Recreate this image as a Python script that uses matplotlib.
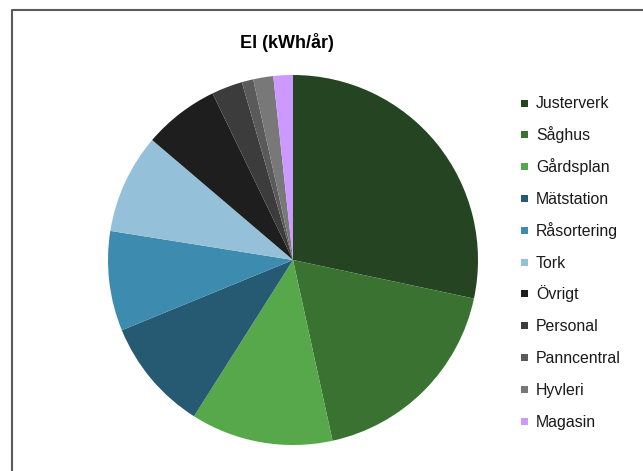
import matplotlib.pyplot as plt
from matplotlib.patches import Rectangle
from matplotlib.lines import Line2D

plt.rcParams['font.family'] = ['Liberation Sans', 'DejaVu Sans']

# andelar av elförbrukningen (%)
kategorier = ['Justerverk', 'Såghus', 'Gårdsplan', 'Mätstation', 'Råsortering',
              'Tork', 'Övrigt', 'Personal', 'Panncentral', 'Hyvleri', 'Magasin']
andelar = [28.3, 18.2, 12.4, 9.8, 8.7, 8.7, 6.6, 2.7, 1.0, 1.75, 1.7]
farger = ['#254421', '#3a7232', '#56a84a', '#265a73', '#3e8bb0', '#94c1d9',
          '#1e1e1e', '#3c3c3c', '#5a5a5a', '#787878', '#cc99ff']

W, H = 643, 471
fig = plt.figure(figsize=(W / 100, H / 100), dpi=100)

# ram runt diagrammet (beskuren i höger- och nederkant)
fig.add_artist(Line2D([12 / W, 12 / W, 1.01], [-0.01, 1 - 10 / H, 1 - 10 / H],
                      transform=fig.transFigure, color='#5a5a5a', lw=1.5))

cx, cy, r = 293, 260, 185
ax = fig.add_axes([(cx - r) / W, (H - cy - r) / H, 2 * r / W, 2 * r / H])
ax.pie(andelar, colors=farger, startangle=90, counterclock=False, radius=1,
       wedgeprops={'linewidth': 0})
ax.set_xlim(-1, 1)
ax.set_ylim(-1, 1)
ax.set_aspect('equal')
ax.axis('off')

fig.text(287 / W, 1 - 42 / H, 'El (kWh/år)', ha='center', va='center',
         fontsize=13, fontweight='bold')

# förklaring, ritad rad för rad för jämnt radavstånd
for i, (namn, farg) in enumerate(zip(kategorier, farger)):
    yc = 103 + i * 31.8
    fig.add_artist(Rectangle((521 / W, 1 - (yc + 3.5) / H), 7 / W, 7 / H,
                             transform=fig.transFigure, facecolor=farg, edgecolor='none'))
    fig.text(536 / W, 1 - (yc + 5.5) / H, namn, ha='left', va='baseline',
             fontsize=11.4, color='#1a1a1a')

fig.savefig('out.png', dpi=100)
